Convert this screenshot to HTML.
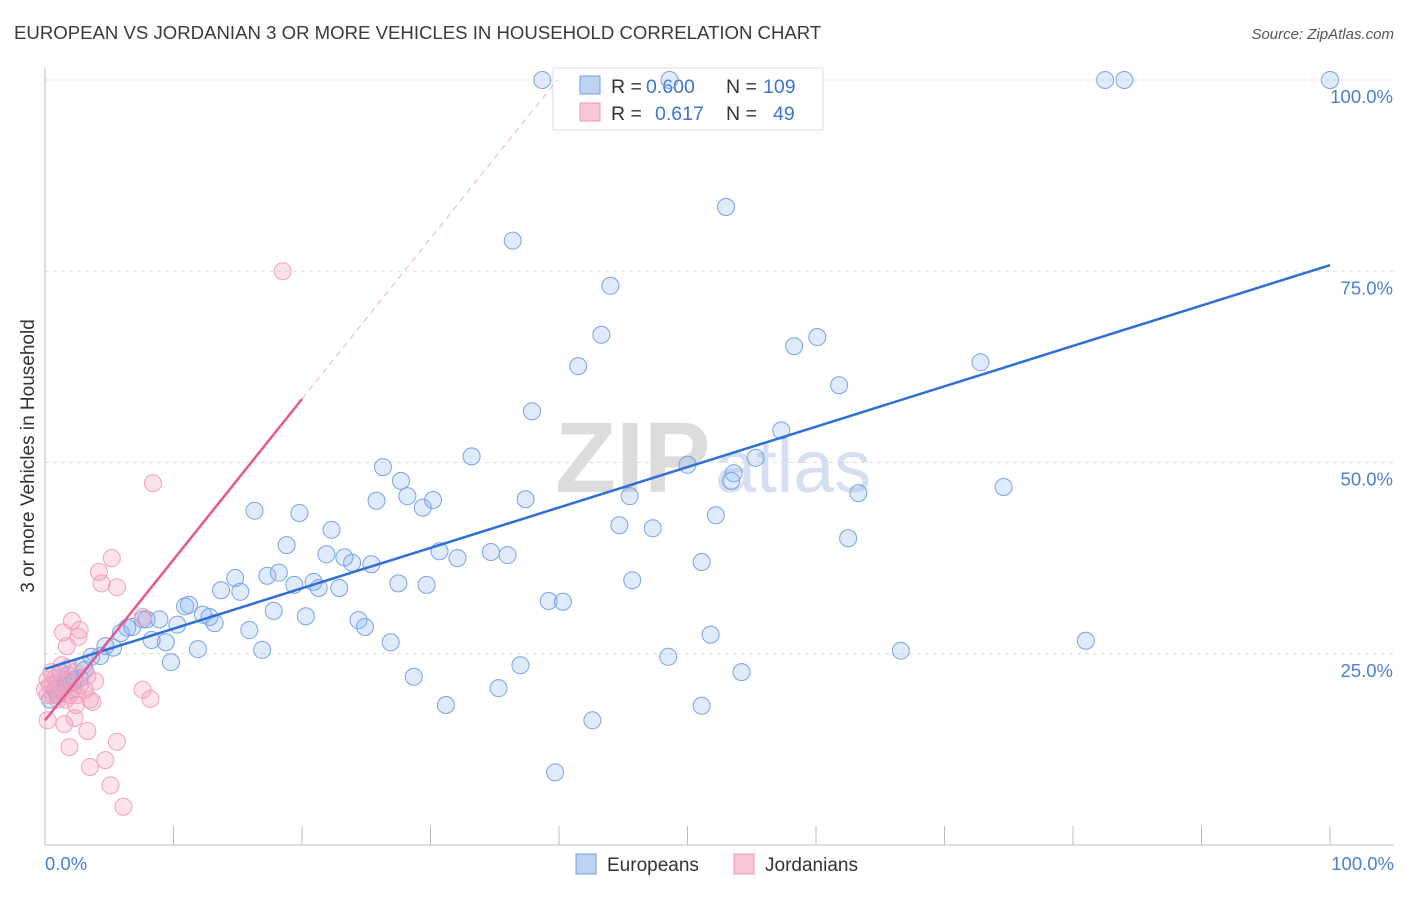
<!DOCTYPE html>
<html><head><meta charset="utf-8"><style>
body{margin:0;background:#fff;font-family:"Liberation Sans",sans-serif;}
svg text{font-family:"Liberation Sans",sans-serif;}
</style></head><body>
<svg width="1406" height="892">
<text x="14" y="39" font-size="18.6" fill="#3a3a3a">EUROPEAN VS JORDANIAN 3 OR MORE VEHICLES IN HOUSEHOLD CORRELATION CHART</text>
<text x="1394" y="39" font-size="15" fill="#555" font-style="italic" text-anchor="end">Source: ZipAtlas.com</text>
<text x="555" y="492" font-size="100" fill="#dcdcdc" font-weight="bold" font-family="Liberation Serif">ZIP</text>
<text x="715" y="492" font-size="74" fill="#d4e0f1">atlas</text>
<g id="grid"></g>
<g id="axes"></g>
<g>
<rect x="553" y="68" width="270" height="62" fill="#fff" stroke="#ddd"/>
<rect x="580" y="76" width="20" height="18" fill="#bcd3f2" stroke="#6f9de0"/>
<rect x="580" y="103" width="20" height="18" fill="#f9c6d6" stroke="#eb9bb6"/>
<text x="611" y="93" font-size="19.5" fill="#333">R =</text>
<text x="646" y="93" font-size="19.5" fill="#3b74d1">0.600</text>
<text x="726" y="93" font-size="19.5" fill="#333">N =</text>
<text x="763" y="93" font-size="19.5" fill="#3b74d1">109</text>
<text x="611" y="120" font-size="19.5" fill="#333">R =</text>
<text x="655" y="120" font-size="19.5" fill="#3b74d1">0.617</text>
<text x="726" y="120" font-size="19.5" fill="#333">N =</text>
<text x="773" y="120" font-size="19.5" fill="#3b74d1">49</text>
</g>
<g id="pts"></g>
<g id="lines"></g>
<text transform="translate(34,456) rotate(-90)" font-size="19" fill="#333" text-anchor="middle">3 or more Vehicles in Household</text>
<text x="45" y="870" font-size="18.5" fill="#4a7fd0">0.0%</text>
<text x="1394" y="870" font-size="18.5" fill="#4a7fd0" text-anchor="end">100.0%</text>
<g>
<rect x="576" y="854" width="20" height="20" fill="#bcd3f2" stroke="#6f9de0"/>
<text x="607" y="871" font-size="19" fill="#333">Europeans</text>
<rect x="734" y="854" width="20" height="20" fill="#f9c6d6" stroke="#eb9bb6"/>
<text x="765" y="871" font-size="19" fill="#333">Jordanians</text>
</g>
</svg>
<script>
const yTicks=[25,50,75,100];
const yTickLabels=["25.0%","50.0%","75.0%","100.0%"];
const xTicks=[0,10,20,30,40,50,60,70,80,90,100];
const euX=[38.7,48.6,82.5,84.0,100,53.0,36.4,44.0,43.3,41.5,58.3,60.1,61.8,72.8,37.9,57.3,33.2,26.3,50.0,55.3,53.6,53.4,27.7,28.2,25.8,29.4,30.2,37.4,45.5,63.3,74.6,16.3,19.8,52.2,44.7,47.3,22.3,62.5,18.8,30.7,21.9,34.7,36.0,32.1,23.3,23.9,25.4,51.1,14.8,17.3,18.2,45.7,20.9,19.4,27.5,29.7,21.3,22.9,13.7,15.2,11.2,10.9,17.8,20.3,39.2,40.3,12.3,12.8,8.9,7.9,7.6,10.3,13.2,24.4,24.9,15.9,6.4,5.9,6.8,8.3,9.4,26.9,51.8,81.0,5.3,4.7,16.9,11.9,66.6,3.6,4.3,3.0,48.5,9.8,37.0,54.2,28.7,2.7,2.1,35.3,31.2,51.1,42.6,39.7,1.2,0.8,1.6,2.3,3.1,0.4,1.0,1.8];
const euY=[100,100,100,100,100,83.4,79.0,73.1,66.7,62.6,65.2,66.4,60.1,63.1,56.7,54.2,50.8,49.4,49.7,50.6,48.6,47.6,47.6,45.6,45.0,44.1,45.1,45.2,45.6,46.0,46.8,43.7,43.4,43.1,41.8,41.4,41.2,40.1,39.2,38.4,38.0,38.3,37.9,37.5,37.6,36.9,36.7,37.0,34.9,35.2,35.6,34.6,34.4,34.0,34.2,34.0,33.6,33.6,33.3,33.1,31.4,31.2,30.6,29.9,31.9,31.8,30.1,29.8,29.5,29.5,29.5,28.8,29.0,29.4,28.5,28.1,28.4,27.7,28.5,26.8,26.5,26.5,27.5,26.7,25.8,26.0,25.5,25.6,25.4,24.6,24.7,23.5,24.6,23.9,23.5,22.6,22.0,21.8,21.2,20.5,18.3,18.2,16.3,9.5,22.6,20.3,20.9,21.6,22.9,19.0,19.6,22.2];
const joX=[18.5,8.4,5.2,4.2,4.4,5.6,7.6,2.1,1.4,2.7,2.6,1.7,3.9,3.1,7.6,8.2,3.7,2.4,2.3,1.5,0.2,3.3,5.6,1.9,4.7,3.5,5.1,6.1,0.4,0.8,1.2,0.2,1.6,1.9,1.0,0.5,2.3,1.3,2.7,0,3.3,1.6,0.9,2.1,0.6,2.5,1.8,3.5,0.2];
const joY=[75.0,47.3,37.5,35.7,34.2,33.7,29.8,29.3,27.8,28.1,27.2,26.0,21.4,20.3,20.3,19.1,18.7,18.3,16.6,15.8,16.3,14.9,13.5,12.8,11.1,10.2,7.8,5.0,20.9,21.8,20.3,19.6,21.6,19.6,19.0,22.6,22.6,23.5,20.9,20.3,22.1,19.0,21.2,20.3,19.6,19.6,23.1,19.0,21.6];
const euFit=[23.0,0.528]; // intercept, slope
const joFit=[16.3,2.1];
const X=v=>45+v*12.85, Y=v=>845-v*7.65;
const NS="http://www.w3.org/2000/svg";
function mk(t,a,p){const e=document.createElementNS(NS,t);for(const k in a)e.setAttribute(k,a[k]);p.appendChild(e);return e;}
const grid=document.getElementById('grid'),axes=document.getElementById('axes'),pts=document.getElementById('pts'),lines=document.getElementById('lines');
yTicks.forEach((t,i)=>{
 const l=mk('line',{x1:45,x2:1394,y1:Y(t),y2:Y(t),stroke:'#dcdcdc','stroke-dasharray':'4,4'},grid);
 
 
 const tx=mk('text',{x:1393,y:Y(t)+23,'font-size':18.5,fill:'#4a7fd0','text-anchor':'end'},grid);
 tx.textContent=yTickLabels[i];
 
 
});
const ax=mk('line',{x1:45,x2:1394,y1:845,y2:845,stroke:'#bbb'},axes);


const ay=mk('line',{x1:45,x2:45,y1:68,y2:845,stroke:'#bbb'},axes);


xTicks.forEach(t=>{const l=mk('line',{x1:X(t),x2:X(t),y1:826,y2:845,stroke:'#bbb'},axes);
 
 });
euX.forEach((v,i)=>{const c=mk('circle',{cx:X(v),cy:Y(euY[i]),r:8.5,fill:'rgba(140,180,240,0.28)',stroke:'#79a3e3','stroke-width':1},pts);
 
 });
joX.forEach((v,i)=>{const c=mk('circle',{cx:X(v),cy:Y(joY[i]),r:8.5,fill:'rgba(245,150,185,0.28)',stroke:'#eea3bd','stroke-width':1},pts);
 
 });
const bl=mk('line',{x1:X(0),y1:Y(euFit[0]),x2:X(100),y2:Y(euFit[0]+100*euFit[1]),stroke:'#2f6fd6','stroke-width':2.5},lines);


const pl=mk('line',{x1:X(0),y1:Y(joFit[0]),x2:X(20),y2:Y(joFit[0]+20*joFit[1]),stroke:'#e5588b','stroke-width':2.5},lines);


const xe=(100-joFit[0])/joFit[1];
const pd=mk('line',{x1:X(20),y1:Y(joFit[0]+20*joFit[1]),x2:X(xe),y2:Y(100),stroke:'#eab0c3','stroke-width':1,'stroke-dasharray':'6,5'},lines);


</script>
</body></html>
